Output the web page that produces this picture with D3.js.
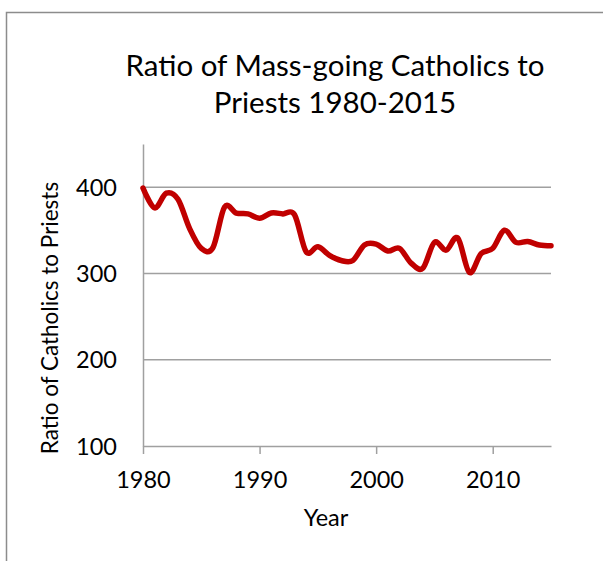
<!DOCTYPE html>
<html>
<head>
<meta charset="utf-8">
<script src="https://cdn.jsdelivr.net/npm/d3@7"></script>
<style>
  body { margin: 0; background: #fff; }
  text { font-family: Lato, "Open Sans", sans-serif; fill: #000; }
</style>
</head>
<body>
<div id="chart"></div>
<script>
// values, one per year
var years = d3.range(1980, 2016);
var ratios = [399, 376, 393, 386, 352, 329, 330, 377, 370, 369,
              364, 370, 369, 368, 325, 331, 321, 315, 315, 333,
              334, 326, 329, 312, 306, 336, 327, 341, 301, 323,
              329, 350, 336, 337, 333, 332];
var xTicks = [1980, 1990, 2000, 2010];
var yTicks = [100, 200, 300, 400];
var titleLines = ["Ratio of Mass-going Catholics to", "Priests 1980-2015"];

var width = 603, height = 561;
var margin = {top: 144, right: 52, bottom: 115, left: 143};
var axisColor = "#a0a0a0";
var lineColor = "#c00000";

var svg = d3.select("#chart").append("svg")
    .attr("width", width)
    .attr("height", height);

// outer frame (only top and left visible)
svg.append("rect")
    .attr("x", 6.5).attr("y", 12.5)
    .attr("width", width).attr("height", height)
    .attr("fill", "none")
    .attr("stroke", "#8c8c8c")
    .attr("stroke-width", 1.5);

var x = d3.scaleLinear().domain([1980, 2015]).range([margin.left, width - margin.right]);
var y = d3.scaleLinear().domain([100, 450]).range([height - margin.bottom, margin.top]);

// gridlines
svg.append("g")
    .selectAll("line")
    .data(yTicks.filter(function(d) { return d > 100; }))
    .enter().append("line")
    .attr("x1", x(1980)).attr("x2", x(2015))
    .attr("y1", function(d) { return y(d); })
    .attr("y2", function(d) { return y(d); })
    .attr("stroke", axisColor)
    .attr("stroke-width", 1.5);

// x axis
var xAxis = svg.append("g")
    .attr("transform", "translate(0," + y(100) + ")")
    .call(d3.axisBottom(x).tickValues(xTicks).tickFormat(d3.format("d")).tickSizeInner(8).tickSizeOuter(0));
xAxis.select(".domain").attr("stroke", axisColor).attr("stroke-width", 1.5);
xAxis.selectAll(".tick line").attr("stroke", axisColor).attr("stroke-width", 1.5);
xAxis.selectAll(".tick text")
    .attr("y", 0).attr("dy", null)
    .attr("transform", "translate(0,42)")
    .style("font-family", "Lato, sans-serif")
    .style("font-size", "23.5px")
    .attr("fill", "#000");

// y axis
var yAxis = svg.append("g")
    .attr("transform", "translate(" + x(1980) + ",0)")
    .call(d3.axisLeft(y).tickValues(yTicks).tickSize(0));
yAxis.select(".domain").attr("stroke", axisColor).attr("stroke-width", 1.5);
yAxis.selectAll(".tick text")
    .attr("x", -26)
    .attr("dy", "0.35em")
    .style("font-family", "Lato, sans-serif")
    .style("font-size", "23.5px")
    .attr("fill", "#000");

// data line, smoothed like the spreadsheet original
var line = d3.line()
    .x(function(d, i) { return x(years[i]); })
    .y(function(d) { return y(d); })
    .curve(d3.curveCatmullRom.alpha(0));

svg.append("path")
    .datum(ratios)
    .attr("d", line)
    .attr("fill", "none")
    .attr("stroke", lineColor)
    .attr("stroke-width", 5.5)
    .attr("stroke-linejoin", "round")
    .attr("stroke-linecap", "round");

// title
svg.append("g").selectAll("text")
    .data(titleLines)
    .enter().append("text")
    .attr("x", 335)
    .attr("y", function(d, i) { return 76 + i * 37; })
    .attr("text-anchor", "middle")
    .style("font-size", "29.5px")
    .text(function(d) { return d; });

// axis titles
svg.append("text")
    .attr("x", 326).attr("y", 526)
    .attr("text-anchor", "middle")
    .style("font-size", "23.5px")
    .text("Year");

svg.append("text")
    .attr("transform", "translate(58,318) rotate(-90)")
    .attr("text-anchor", "middle")
    .style("font-size", "22.5px")
    .text("Ratio of Catholics to Priests");
</script>
</body>
</html>
